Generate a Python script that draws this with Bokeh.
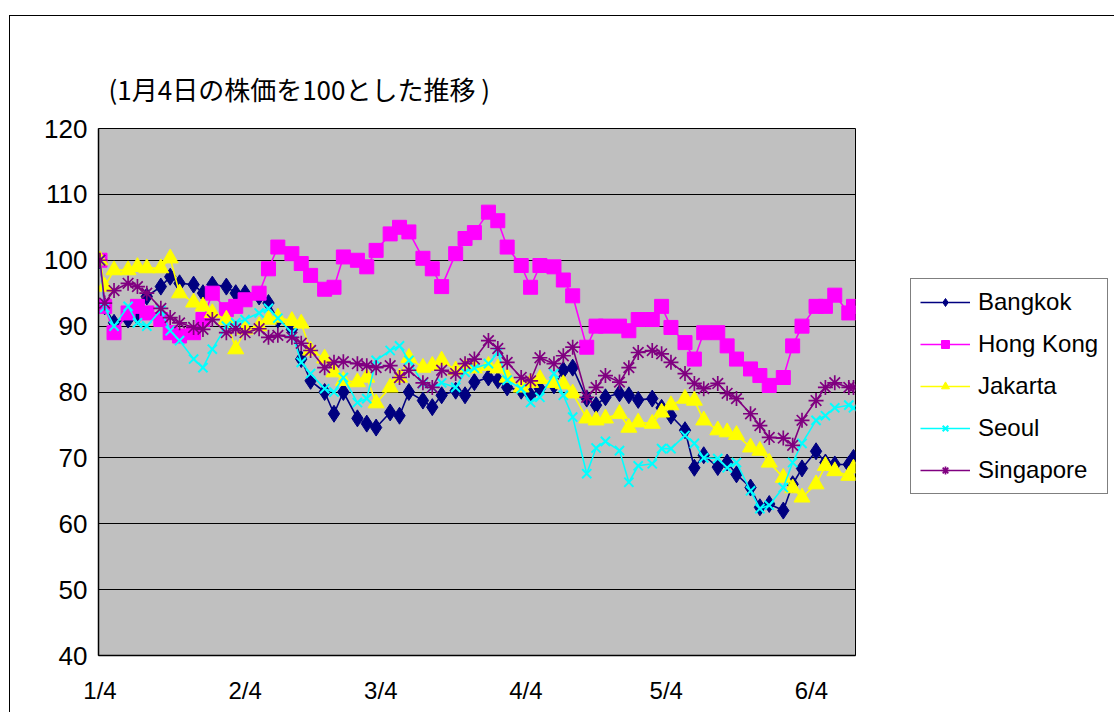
import pandas as pd
from bokeh.plotting import figure
from bokeh.models import Range1d, FixedTicker, Legend, LegendItem
from bokeh.embed import file_html
from bokeh.resources import INLINE

title_text = "(1月4日の株価を100とした推移 )"

dates = [
    "2000-01-04", "2000-01-05", "2000-01-07", "2000-01-10", "2000-01-12", "2000-01-14", "2000-01-17",
    "2000-01-19", "2000-01-21", "2000-01-24", "2000-01-26", "2000-01-28", "2000-01-31",
    "2000-02-02", "2000-02-04", "2000-02-07", "2000-02-09", "2000-02-11", "2000-02-14", "2000-02-16",
    "2000-02-18", "2000-02-21", "2000-02-23", "2000-02-25", "2000-02-28",
    "2000-03-01", "2000-03-03", "2000-03-06", "2000-03-08", "2000-03-10", "2000-03-13", "2000-03-15",
    "2000-03-17", "2000-03-20", "2000-03-22", "2000-03-24", "2000-03-27", "2000-03-29", "2000-03-31",
    "2000-04-03", "2000-04-05", "2000-04-07", "2000-04-10", "2000-04-12", "2000-04-14", "2000-04-17",
    "2000-04-19", "2000-04-21", "2000-04-24", "2000-04-26", "2000-04-28",
    "2000-05-01", "2000-05-03", "2000-05-05", "2000-05-08", "2000-05-10", "2000-05-12", "2000-05-15",
    "2000-05-17", "2000-05-19", "2000-05-22", "2000-05-24", "2000-05-26", "2000-05-29", "2000-05-31",
    "2000-06-02", "2000-06-05", "2000-06-07", "2000-06-09", "2000-06-12", "2000-06-13",
]

bangkok = [
    100, 93, 90.5, 91, 91.5, 94.5, 96, 97.5, 96.5, 96.3, 95, 96.3, 96,
    95, 95, 94.5, 93.5, 91, 89.5, 85, 81.7, 80, 76.7, 80, 76,
    75.2, 74.6, 76.9, 76.4, 80, 78.7, 77.7, 79.5, 80.2, 79.5, 81.5, 82.2, 81.8, 80.7,
    80.2, 79.5, 80.5, 81, 83.3, 83.7, 79, 78, 79.2, 79.8, 79.5, 78.8,
    79, 77.6, 76.4, 74.2, 68.5, 70.4, 68.6, 69.3, 67.5, 65.5, 62.5, 63, 62, 66,
    68.4, 71, 69.3, 69, 69, 70,
]
hong_kong = [
    100, 93, 89, 92, 93, 92, 91, 89, 88.5, 89, 91, 95, 92.5,
    93, 94, 95, 98.7, 102, 101, 99.5, 97.7, 95.6, 95.9, 100.5, 100,
    99, 101.5, 104, 105, 104.3, 100.3, 98.7, 96, 101, 103.3, 104.2, 107.3, 106, 102,
    99.2, 95.9, 99.2, 99, 97, 94.6, 86.8, 90, 90, 90, 89.3, 91,
    91, 93, 89.8, 87.5, 85, 89, 89, 87, 85, 83.5, 82.5, 81, 82.2, 87,
    90, 93, 93, 94.7, 92, 93,
]
jakarta = [
    100, 96, 98.5, 98.5, 99, 98.8, 98.8, 100.3, 95, 93.6, 93, 92, 91,
    86.5, 89.5, 90, 91, 91.3, 90.8, 90.4, 86.3, 85.1, 83, 81.7, 81.5,
    82.2, 78.3, 80.7, 82.2, 85.2, 83.7, 84, 84.8, 83.3, 83.7, 83.6, 84, 83.6, 82.2,
    80.7, 81.4, 82, 81.4, 81.2, 79.8, 76, 75.7, 76, 76.7, 74.6, 75.4,
    75.2, 76.9, 78, 79, 78.7, 75.7, 74.2, 73.9, 73.5, 71.6, 71.1, 69.3, 67, 65.4,
    64, 66, 68.8, 68, 67.3, 68.4,
]
seoul = [
    100, 92.8, 90, 93, 90.5, 90, 92.4, 89.3, 87.8, 85, 83.7, 86.5, 90,
    90.5, 91, 92, 92.7, 91.2, 89, 84.5, 82.8, 80.5, 80, 82.2, 78.4,
    79, 84.8, 86.3, 87, 84.8, 81.3, 80.7, 81.4, 80.7, 83, 83.6, 84.3, 86, 81.8,
    80.5, 78.4, 79.2, 82.8, 79.5, 76.2, 67.6, 71.5, 72.5, 71.1, 66.3, 68.8,
    69.1, 71.4, 71.4, 73.4, 72.2, 70, 69.9, 68.5, 69.3, 65, 62.3, 62.8, 65.5, 69.3,
    72.2, 75.7, 76.4, 77.6, 78, 77.6,
]
singapore = [
    100, 93.5, 95.4, 96.5, 96, 95, 92.7, 91.3, 90.5, 89.8, 89.5, 91, 89,
    89.6, 89, 89.6, 88.3, 88.6, 88.3, 87.4, 86.3, 83.7, 84.5, 84.6, 84.3,
    84, 83.7, 84, 82.2, 83.3, 81.4, 80.7, 83.3, 82.8, 84.3, 85, 87.8, 86.6, 84.5,
    82.2, 81.7, 85.2, 84.3, 85.5, 86.8, 79.2, 80.7, 82.5, 81.5, 83.7, 86,
    86.3, 85.8, 84.5, 82.8, 81.3, 80.5, 81.3, 79.8, 79, 76.7, 74.9, 73.1, 73, 71.9,
    75.7, 78.7, 80.7, 81.4, 80.7, 80.7,
]

series_names = ["Bangkok", "Hong Kong", "Jakarta", "Seoul", "Singapore"]
tick_dates = ["2000-01-04", "2000-02-04", "2000-03-04", "2000-04-04", "2000-05-04", "2000-06-04"]
tick_labels = ["1/4", "2/4", "3/4", "4/4", "5/4", "6/4"]
y_ticks = [40, 50, 60, 70, 80, 90, 100, 110, 120]

x = pd.to_datetime(dates)


def ms(ts):
    return pd.Timestamp(ts).value / 1e6


x_start = ms("2000-01-04") - 0.32 * 86400000
x_end = x_start + 161.75 * 86400000

p = figure(
    frame_width=757, frame_height=527,
    x_axis_type="datetime",
    x_range=Range1d(x_start, x_end),
    y_range=Range1d(40, 120),
    output_backend="svg", toolbar_location=None,
    min_border_left=88, min_border_right=251, min_border_top=112, min_border_bottom=57,
)
p.margin = (15, 0, 0, 9)
p.styles = {"border-left": "1px solid black", "border-top": "1px solid black"}

p.background_fill_color = "#C0C0C0"
p.border_fill_color = "white"
p.outline_line_color = "black"
p.outline_line_width = 1

p.title.text = title_text
p.title.text_font = "Noto Sans CJK JP"
p.title.text_font_size = "26px"
p.title.text_font_style = "normal"
p.title.text_color = "black"
p.title.align = "left"
p.title.offset = 10
p.title.standoff = 44

tick_ms = [ms(d) for d in tick_dates]
p.xaxis.ticker = FixedTicker(ticks=tick_ms)
p.xaxis.major_label_overrides = {t: lab for t, lab in zip(tick_ms, tick_labels)}
p.yaxis.ticker = FixedTicker(ticks=y_ticks)
p.ygrid.ticker = FixedTicker(ticks=y_ticks)
p.xgrid.visible = False
p.ygrid.grid_line_color = "black"
p.ygrid.grid_line_width = 1.2

for ax in (p.xaxis, p.yaxis):
    ax.major_tick_line_color = None
    ax.minor_tick_line_color = None
    ax.axis_line_color = "black"
    ax.axis_line_width = 1.5
    ax.major_label_text_font = "Liberation Sans"
    ax.major_label_text_color = "black"
p.yaxis.major_label_text_font_size = "26px"
p.xaxis.major_label_text_font_size = "24px"
p.yaxis.major_label_standoff = 5
p.xaxis.major_label_standoff = 15

styles = [
    ("#000080", "diamond", 17, 1),
    ("#FF00FF", "square", 14, 1),
    ("#FFFF00", "triangle", 16, 1),
    ("#00FFFF", "x", 13, 2),
    ("#800080", "asterisk", 15, 1.7),
]
values = [bangkok, hong_kong, jakarta, seoul, singapore]

items = []
for name, vals, (col, mk, sz, lw) in zip(series_names, values, styles):
    lr = p.line(x, vals, line_color=col, line_width=1.6)
    sr = p.scatter(x, vals, marker=mk, size=sz, fill_color=col, line_color=col, line_width=lw)
    items.append(LegendItem(label=name, renderers=[lr, sr]))

legend = Legend(
    items=items, location=(55, 161),
    border_line_color="black", border_line_width=1,
    background_fill_color="white", background_fill_alpha=1,
    label_text_font="Liberation Sans", label_text_font_size="24px",
    label_text_color="black",
    glyph_width=50, glyph_height=20, label_height=20,
    spacing=14, padding=9, margin=0, label_standoff=8,
)
p.add_layout(legend, "right")

open("out.html", "w").write(file_html(p, INLINE))
